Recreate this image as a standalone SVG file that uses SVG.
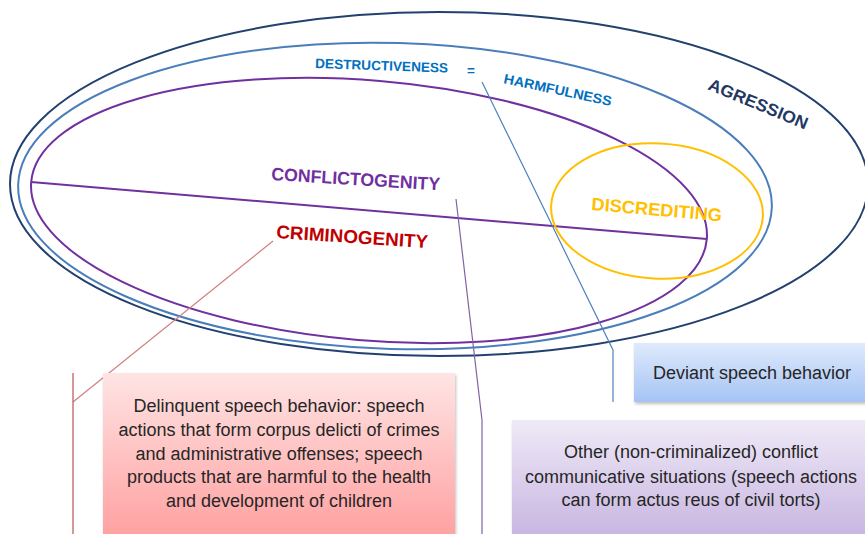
<svg xmlns="http://www.w3.org/2000/svg" width="865" height="534" viewBox="0 0 865 534">
<defs>
<style>
.ell{fill:none;stroke-width:2}
.lbl{font-family:"Liberation Sans",Arial,sans-serif;font-weight:bold}
.box text{font-family:"Liberation Sans",Arial,sans-serif;font-size:18px;fill:#262626;text-anchor:middle}
.conn{fill:none;stroke-width:1.2}
</style>
<linearGradient id="gPink" x1="0" y1="0" x2="0" y2="1">
<stop offset="0" stop-color="#FFE4E4"/><stop offset="1" stop-color="#FF9C9C"/>
</linearGradient>
<linearGradient id="gBlue" x1="0" y1="0" x2="0" y2="1">
<stop offset="0" stop-color="#DFEAFC"/><stop offset="1" stop-color="#A5C4F4"/>
</linearGradient>
<linearGradient id="gPurple" x1="0" y1="0" x2="0" y2="1">
<stop offset="0" stop-color="#EFEAF7"/><stop offset="1" stop-color="#C3AFDE"/>
</linearGradient>
<filter id="sh" x="-5%" y="-5%" width="110%" height="120%">
<feDropShadow dx="1" dy="2" stdDeviation="1.5" flood-color="#000" flood-opacity="0.25"/>
</filter>
</defs>

<g id="agression">
<ellipse class="ell" cx="439" cy="184" rx="429" ry="172" stroke="#23416F"/>
<text class="lbl" font-size="17" fill="#1F3864" transform="translate(707,89) rotate(22.5)" textLength="106" lengthAdjust="spacingAndGlyphs">AGRESSION</text>
</g>

<g id="destructiveness">
<ellipse class="ell" cx="395" cy="196" rx="377" ry="153" transform="rotate(1.7 395 196)" stroke="#4A7EBB"/>
<text class="lbl" font-size="13.5" fill="#0070C0" transform="translate(315,68) rotate(2)" textLength="133" lengthAdjust="spacingAndGlyphs">DESTRUCTIVENESS</text>
<text class="lbl" font-size="13.5" fill="#0070C0" x="471" y="75" text-anchor="middle">=</text>
<text class="lbl" font-size="13.5" fill="#0070C0" transform="translate(503,83) rotate(12)" textLength="110" lengthAdjust="spacingAndGlyphs">HARMFULNESS</text>
</g>

<g id="conflictogenity">
<ellipse class="ell" cx="369" cy="210.5" rx="339" ry="130" transform="rotate(4.83 369 210.5)" stroke="#7030A0"/>
<line x1="31" y1="182" x2="707" y2="239" stroke="#7030A0" stroke-width="2"/>
<text class="lbl" font-size="18" fill="#7030A0" transform="translate(271,180) rotate(3.5)" textLength="169" lengthAdjust="spacingAndGlyphs">CONFLICTOGENITY</text>
</g>

<g id="criminogenity">
<text class="lbl" font-size="18.5" fill="#C00000" transform="translate(276,238) rotate(3.8)" textLength="152" lengthAdjust="spacingAndGlyphs">CRIMINOGENITY</text>
</g>

<g id="discrediting">
<ellipse class="ell" cx="657" cy="211" rx="106" ry="67.5" transform="rotate(3 657 211)" stroke="#FFC000"/>
<text class="lbl" font-size="18" fill="#FFC000" transform="translate(591,210) rotate(5)" textLength="131" lengthAdjust="spacingAndGlyphs">DISCREDITING</text>
</g>

<g id="connectors">
<polyline class="conn" points="273,241 73,402" stroke="#D08080"/>
<line class="conn" x1="73" y1="373" x2="73" y2="534" stroke="#B85450"/>
<polyline class="conn" points="456,199 482,420 482,534" stroke="#8064A2"/>
<polyline class="conn" points="482,82 613,350 613,402" stroke="#4F81BD"/>
</g>

<g id="delinquent" class="box">
<rect x="103" y="373" width="352" height="175" fill="url(#gPink)" filter="url(#sh)"/>
<text x="279" y="412">Delinquent speech behavior: speech</text>
<text x="279" y="436">actions that form corpus delicti of crimes</text>
<text x="279" y="459.5">and administrative offenses; speech</text>
<text x="279" y="483">products that are harmful to the health</text>
<text x="279" y="507">and development of children</text>
</g>

<g id="deviant" class="box">
<rect x="634" y="343" width="240" height="59" fill="url(#gBlue)" filter="url(#sh)"/>
<text x="752" y="379">Deviant speech behavior</text>
</g>

<g id="other" class="box">
<rect x="512" y="420" width="362" height="130" fill="url(#gPurple)" filter="url(#sh)"/>
<text x="691" y="458">Other (non-criminalized) conflict</text>
<text x="691" y="482.5">communicative situations (speech actions</text>
<text x="691" y="506">can form actus reus of civil torts)</text>
</g>
</svg>
